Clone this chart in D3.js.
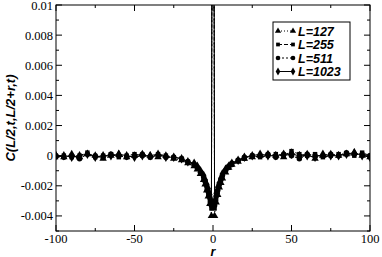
<!DOCTYPE html>
<html><head><meta charset="utf-8">
<script src="https://cdn.jsdelivr.net/npm/d3@7"></script>
<style>body{margin:0;background:#fff}svg{display:block}</style>
</head><body>
<svg id="c" width="382" height="257"></svg>
<script>
const rValues = [-100,-95,-90,-85,-80,-75,-70,-65,-60,-55,-50,-45,-40,-35,-30,-25,-20,-16,-12,-10,-8,-6,-5,-4,-3,-2,-1,0,1,2,3,4,5,6,8,10,12,16,20,25,30,35,40,45,50,55,60,65,70,75,80,85,90,95,100];
const seriesNames = ["L=127","L=255","L=511","L=1023"];
const valsL127 = [0,-0.0001,0.0001,-0.0001,0.0001,0,-0.0002,0,0.0001,-0.0001,0,0.0001,0,-0.0001,0,-0.0002,-0.0003,-0.0005,-0.0007,-0.0009,-0.0012,-0.0016,-0.0019,-0.0023,-0.0027,-0.0032,-0.004,0.05,-0.004,-0.0031,-0.0026,-0.0021,-0.0018,-0.0015,-0.0011,-0.0008,-0.0006,-0.0004,-0.0002,-0.0001,0,0.0001,0,-0.0001,0.0002,0,0.0001,-0.0002,0,0.0001,0,0.0001,0.0002,0,-0.0001];
const valsL255 = [-0.0001,0,-0.0001,0,0.0002,-0.0001,0,0.0001,-0.0001,0,0.0001,0,-0.0001,0.0001,0,-0.0001,-0.0002,-0.0004,-0.0006,-0.0008,-0.0011,-0.0015,-0.0018,-0.0022,-0.0026,-0.003,-0.0035,0.05,-0.0035,-0.0029,-0.0024,-0.002,-0.0017,-0.0014,-0.001,-0.0008,-0.0006,-0.0003,-0.0002,0,-0.0001,0,0.0001,0,0.0003,0.0001,0,0.0001,-0.0001,0,0.0001,0.0001,0,0.0002,0];
const valsL511 = [0,-0.0001,0,-0.0002,0.0001,0,-0.0001,0.0001,0,-0.0001,0,0.0001,-0.0001,0,-0.0001,-0.0001,-0.0002,-0.0004,-0.0006,-0.0008,-0.0011,-0.0014,-0.0017,-0.002,-0.0024,-0.0028,-0.0033,0.05,-0.0033,-0.0027,-0.0023,-0.0019,-0.0016,-0.0013,-0.001,-0.0007,-0.0005,-0.0003,-0.0001,0,0,0.0001,-0.0001,0.0001,0,-0.0002,0.0001,0,0,0.0001,0,0.0002,0.0001,0.0001,0];
const valsL1023 = [0,0,-0.0001,0,0.0001,-0.0001,0,0,0.0001,0,-0.0001,0,0,0.0001,-0.0001,-0.0001,-0.0002,-0.0004,-0.0005,-0.0007,-0.001,-0.0013,-0.0016,-0.0019,-0.0022,-0.0026,-0.003,0.05,-0.003,-0.0025,-0.0021,-0.0018,-0.0015,-0.0012,-0.0009,-0.0007,-0.0005,-0.0003,-0.0001,0,0.0001,0,0,0.0001,0.0001,0,0,-0.0001,0.0001,0,0,0.0001,0.0002,0,-0.0001];
const xTicks = [-100,-50,0,50,100];
const yTicks = [-0.004,-0.002,0,0.002,0.004,0.006,0.008,0.01];
const yTickLabels = ["-0.004","-0.002","0","0.002","0.004","0.006","0.008","0.01"];

const svg = d3.select("#c");
const L = 56, R = 370, T = 5, B = 231;
const x = d3.scaleLinear().domain([-100,100]).range([L,R]);
const y = d3.scaleLinear().domain([-0.005,0.01]).range([B,T]);

svg.append("defs").append("clipPath").attr("id","clip")
  .append("rect").attr("x",L).attr("y",T).attr("width",R-L).attr("height",B-T);

const allSeries = [valsL127, valsL255, valsL511, valsL1023];
const dashes = ["1,2","4,2","2,2",null];
const symbols = [d3.symbolTriangle, d3.symbolSquare, d3.symbolCircle, d3.symbolDiamond];
const symSizes = [24, 20, 24, 26];

const plot = svg.append("g").attr("clip-path","url(#clip)");
const line = d3.line().x(d=>x(d[0])).y(d=>y(d[1]));
allSeries.forEach((vals,i)=>{
  const data = rValues.map((r,k)=>[r, vals[k]]);
  plot.append("path").datum(data).attr("d",line)
    .attr("fill","none").attr("stroke","#000").attr("stroke-width",1)
    .attr("stroke-dasharray",dashes[i]);
  plot.selectAll(null).data(data).enter().append("path")
    .attr("transform",d=>`translate(${x(d[0])},${y(d[1])})`)
    .attr("d",d3.symbol().type(symbols[i]).size(symSizes[i]))
    .attr("fill","#000");
});

svg.append("rect").attr("x",L).attr("y",T).attr("width",R-L).attr("height",B-T)
  .attr("fill","none").attr("stroke","#000").attr("stroke-width",1);

const tickG = svg.append("g").attr("stroke","#000").attr("stroke-width",1);
const xMinor = d3.range(-100,101,25);
xMinor.forEach(v=>{
  const len = xTicks.includes(v) ? 6 : 3;
  tickG.append("line").attr("x1",x(v)).attr("x2",x(v)).attr("y1",B).attr("y2",B-len);
  tickG.append("line").attr("x1",x(v)).attr("x2",x(v)).attr("y1",T).attr("y2",T+len);
});
const yMinor = d3.range(-5,11,1).map(v=>v/1000);
yMinor.forEach(v=>{
  const major = Math.round(v*1000)%2===0;
  const len = major ? 6 : 3;
  tickG.append("line").attr("x1",L).attr("x2",L+len).attr("y1",y(v)).attr("y2",y(v));
  tickG.append("line").attr("x1",R).attr("x2",R-len).attr("y1",y(v)).attr("y2",y(v));
});

const serif = "'Liberation Serif','Times New Roman',serif";
svg.selectAll(".xl").data(xTicks).enter().append("text")
  .attr("x",d=>x(d)).attr("y",B+12).attr("text-anchor","middle")
  .attr("font-family",serif).attr("font-size",12.5).text(d=>d);
svg.selectAll(".yl").data(yTicks).enter().append("text")
  .attr("x",L-3).attr("y",d=>Math.max(y(d)+4.5,10)).attr("text-anchor","end")
  .attr("font-family",serif).attr("font-size",12.5).text((d,i)=>yTickLabels[i]);

const sans = "'Liberation Sans',Arial,sans-serif";
svg.append("text").attr("x",x(0)).attr("y",255.5).attr("text-anchor","middle")
  .attr("font-family",sans).attr("font-weight","bold").attr("font-style","italic")
  .attr("font-size",12.5).text("r");
svg.append("text").attr("transform","translate(15,118) rotate(-90)").attr("text-anchor","middle")
  .attr("font-family",sans).attr("font-weight","bold").attr("font-style","italic")
  .attr("font-size",13).text("C(L/2,t,L/2+r,t)");

const lg = svg.append("g");
lg.append("rect").attr("x",273).attr("y",22).attr("width",77).attr("height",58)
  .attr("fill","#fff").attr("stroke","#000").attr("stroke-width",1);
seriesNames.forEach((name,i)=>{
  const yy = 31 + i*13.5;
  lg.append("line").attr("x1",278).attr("x2",293).attr("y1",yy).attr("y2",yy)
    .attr("stroke","#000").attr("stroke-dasharray",dashes[i]);
  [278,293].forEach(xx=>lg.append("path").attr("transform",`translate(${xx},${yy})`)
    .attr("d",d3.symbol().type(symbols[i]).size(symSizes[i]*0.7)).attr("fill","#000"));
  lg.append("text").attr("x",298).attr("y",yy+4.5)
    .attr("font-family",sans).attr("font-weight","bold").attr("font-style","italic")
    .attr("font-size",12.5).text(name);
});
</script>
</body></html>
